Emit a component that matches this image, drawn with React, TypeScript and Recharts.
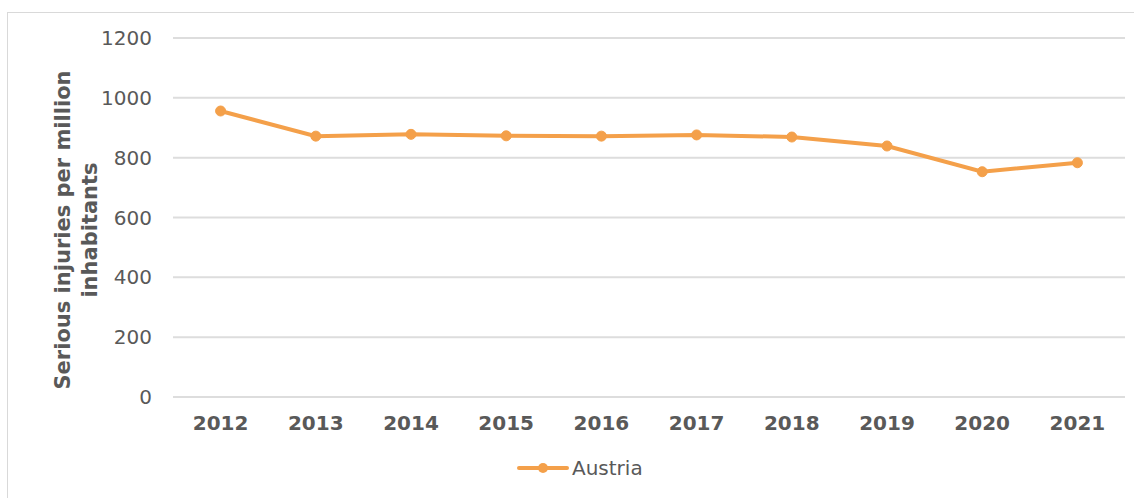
import { CartesianGrid, Legend, Line, LineChart, XAxis, YAxis } from "recharts";

// Serious injuries per million inhabitants, Austria
const years = ["2012", "2013", "2014", "2015", "2016", "2017", "2018", "2019", "2020", "2021"];
const austria = [956, 872, 878, 873, 872, 876, 869, 839, 753, 783];
const yTicks = [0, 200, 400, 600, 800, 1000, 1200];

const data = years.map((year, i) => ({ year, Austria: austria[i] }));

const ORANGE = "#F4A04A";
const TEXT = "#595959";
const GRID = "#DDDDDD";
const FONT = "'DejaVu Sans', Verdana, sans-serif";

function AxisTitle() {
  return (
    <text
      transform="translate(70,230) rotate(-90)"
      textAnchor="middle"
      fill={TEXT}
      fontSize={21}
      fontWeight="bold"
      fontFamily={FONT}
    >
      <tspan x={0} y={0}>Serious injuries per million</tspan>
      <tspan x={0} y={27}>inhabitants</tspan>
    </text>
  );
}

function LegendContent({ payload }: any) {
  const item = payload && payload[0];
  if (!item) return null;
  return (
    <svg width={1134} height={24} style={{ display: "block" }}>
      <line x1={519} y1={12} x2={567} y2={12} stroke={item.color} strokeWidth={4} strokeLinecap="round" />
      <circle cx={543} cy={12} r={5} fill={item.color} />
      <text x={572} y={19} fill={TEXT} fontSize={20} fontFamily={FONT}>
        {item.value}
      </text>
    </svg>
  );
}

export default function App() {
  return (
    <div style={{ position: "relative", width: 1134, height: 498, overflow: "hidden", background: "#fff" }}>
      <style>{"body{margin:0}"}</style>
      <div
        style={{
          position: "absolute",
          left: 7,
          top: 12,
          width: 1200,
          height: 600,
          border: "1.5px solid #D9D9D9",
        }}
      />
      <div style={{ position: "absolute", left: 0, top: 0 }}>
        <LineChart
          width={1134}
          height={498}
          data={data}
          margin={{ top: 38, right: 9, left: 93, bottom: 37 }}
          style={{ fontFamily: FONT }}
        >
          <CartesianGrid horizontal vertical={false} stroke={GRID} strokeWidth={2} />
          <XAxis
            dataKey="year"
            scale="band"
            axisLine={false}
            tickLine={false}
            height={40}
            tickMargin={13}
            tick={{ fill: TEXT, fontSize: 20, fontWeight: "bold", fontFamily: FONT }}
            interval={0}
          />
          <YAxis
            domain={[0, 1200]}
            ticks={yTicks}
            axisLine={false}
            tickLine={false}
            width={80}
            tickMargin={15}
            tick={{ fill: TEXT, fontSize: 20, fontFamily: FONT }}
            label={<AxisTitle />}
          />
          <Legend
            verticalAlign="bottom"
            height={24}
            content={<LegendContent />}
            wrapperStyle={{ bottom: 18, left: 0 }}
          />
          <Line
            type="linear"
            dataKey="Austria"
            stroke={ORANGE}
            strokeWidth={4}
            dot={{ r: 5, fill: ORANGE, stroke: ORANGE, strokeWidth: 1 }}
            activeDot={false}
            isAnimationActive={false}
          />
        </LineChart>
      </div>
    </div>
  );
}
